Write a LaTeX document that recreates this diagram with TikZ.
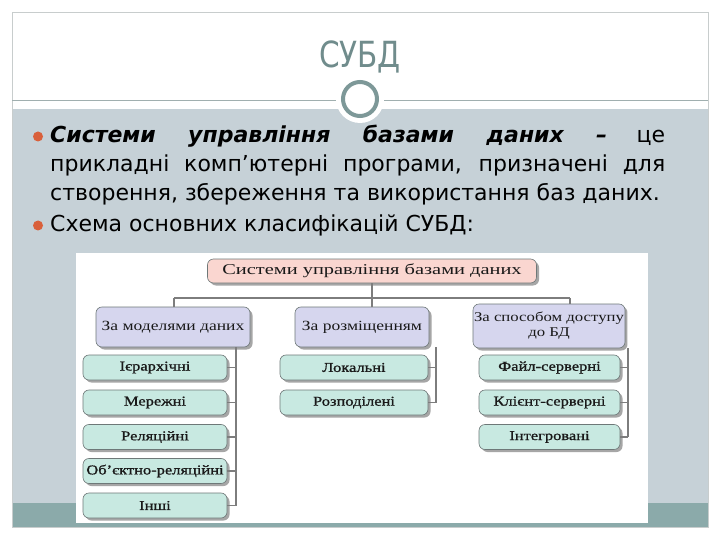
\documentclass[tikz,border=0pt]{standalone}
\usepackage{fontspec}
\setmainfont{DejaVu Sans}
\newfontfamily\titlefont{DejaVu Sans}[FakeStretch=0.82]
\newfontfamily\dfont{Liberation Serif}[FakeStretch=1.25]
\newfontfamily\rfont{Liberation Serif}[FakeStretch=1.36]
\newfontfamily\lfont{Liberation Serif}[FakeStretch=1.22, FakeBold=1]
\usetikzlibrary{shadows}
\definecolor{bandgray}{RGB}{198,209,215}
\definecolor{bandteal}{RGB}{139,170,170}
\definecolor{framegray}{RGB}{200,205,205}
\definecolor{linegray}{RGB}{160,175,175}
\definecolor{circc}{RGB}{125,152,152}
\definecolor{titlec}{RGB}{112,140,140}
\definecolor{bulletc}{RGB}{217,96,59}
\definecolor{rootc}{RGB}{250,214,208}
\definecolor{lavc}{RGB}{214,214,238}
\definecolor{mintc}{RGB}{200,233,225}
\definecolor{edgec}{RGB}{110,120,120}
\definecolor{connc}{RGB}{125,125,125}
\tikzset{
  box/.style={draw=edgec, line width=0.6pt, rounded corners=6pt, inner sep=1pt,
    align=center, font=\dfont\fontsize{14}{15}\selectfont, text=black!90,
    drop shadow={shadow xshift=2.5pt, shadow yshift=-2.5pt, fill=black!35, opacity=1}},
  rootbox/.style={box, fill=rootc, minimum width=329pt, minimum height=24pt, font=\rfont\fontsize{15}{16}\selectfont},
  midbox/.style={box, fill=lavc, minimum height=40pt},
  leafbox/.style={box, fill=mintc, minimum height=25pt, font=\lfont\fontsize{13.5}{14}\selectfont},
  conn/.style={draw=connc, line width=1.5pt},
  bodytext/.style={anchor=base west, inner sep=0pt, font=\fontsize{22}{26}\selectfont, text=black}
}
\begin{document}
\begin{tikzpicture}[x=1pt,y=-1pt]
\useasboundingbox (0,0) rectangle (720,540);
\fill[white] (0,0) rectangle (720,540);
% slide background
\fill[bandgray] (12,109) rectangle (708,503);
\fill[bandteal] (12,503) rectangle (708,527);
\draw[framegray, line width=0.8pt] (12,12) rectangle (708,527);
\draw[linegray, line width=0.8pt] (12,100) -- (708,100);
\fill[white] (360,99) circle (24);
\draw[circc, line width=4pt, fill=white] (360,99) circle (17);
\node[text=titlec, font=\titlefont\fontsize{36}{40}\selectfont] (title) at (360,57) {СУБД};
% bullets
\fill[bulletc] (38,136.5) circle (5);
\fill[bulletc] (38,225.5) circle (5);
\node[bodytext] (l1) at (50,143) {\makebox[615pt][s]{\textbf{\textit{Системи управління базами даних –}} це}};
\node[bodytext] (l2) at (50,172) {\makebox[615pt][s]{прикладні комп’ютерні програми, призначені для}};
\node[bodytext] (l3) at (50,201) {створення, збереження та використання баз даних.};
\node[bodytext] (l4) at (50,232) {Схема основних класифікацій СУБД:};
% diagram panel
\fill[white] (76,253) rectangle (648,523);
\node[rootbox] (root) at (372,271) {Системи управління базами даних};
\node[midbox, minimum width=154pt] (ma) at (173,327) {За моделями даних};
\node[midbox, minimum width=134pt] (mb) at (362,327) {За розміщенням};
\node[midbox, minimum width=146pt, minimum height=44pt, font=\dfont\fontsize{13.4}{15}\selectfont] (mc) at (549,326) {За способом доступу\\до БД};
\node[leafbox, minimum width=144pt] (a1) at (155,367.5) {Ієрархічні};
\node[leafbox, minimum width=144pt] (a2) at (155,402.5) {Мережні};
\node[leafbox, minimum width=144pt] (a3) at (155,437) {Реляційні};
\node[leafbox, minimum width=144pt] (a4) at (155,471) {Об’єктно-реляційні};
\node[leafbox, minimum width=144pt] (a5) at (155,505.5) {Інші};
\node[leafbox, minimum width=148pt] (b1) at (354,367.5) {Локальні};
\node[leafbox, minimum width=148pt] (b2) at (354,402.5) {Розподілені};
\node[leafbox, minimum width=141pt] (c1) at (549.5,367.5) {Файл-серверні};
\node[leafbox, minimum width=141pt] (c2) at (549.5,402.5) {Клієнт-серверні};
\node[leafbox, minimum width=141pt] (c3) at (549.5,437) {Інтегровані};
% connectors
\coordinate (jl) at (174,298);
\coordinate (jm) at (372,298);
\coordinate (jr) at (570,298);
\draw[conn] (root.south -| jm) -- (jm |- mb.north);
\draw[conn] (jl) -- (jr);
\draw[conn] (jl) -- (jl |- ma.north);
\draw[conn] (jr) -- (jr |- mc.north);
\coordinate (ba) at (236,0);
\coordinate (bb) at (436,0);
\coordinate (bc) at (628,0);
\draw[conn] (ba |- ma.south) -- (ba |- a5.east);
\foreach \n in {a1,a2,a3,a4,a5} \draw[conn] (\n.east) -- (ba |- \n.east);
\draw[conn] (bb |- mb.south) -- (bb |- b2.east);
\foreach \n in {b1,b2} \draw[conn] (\n.east) -- (bb |- \n.east);
\draw[conn] (bc |- mc.south) -- (bc |- c3.east);
\foreach \n in {c1,c2,c3} \draw[conn] (\n.east) -- (bc |- \n.east);
\end{tikzpicture}
\end{document}
